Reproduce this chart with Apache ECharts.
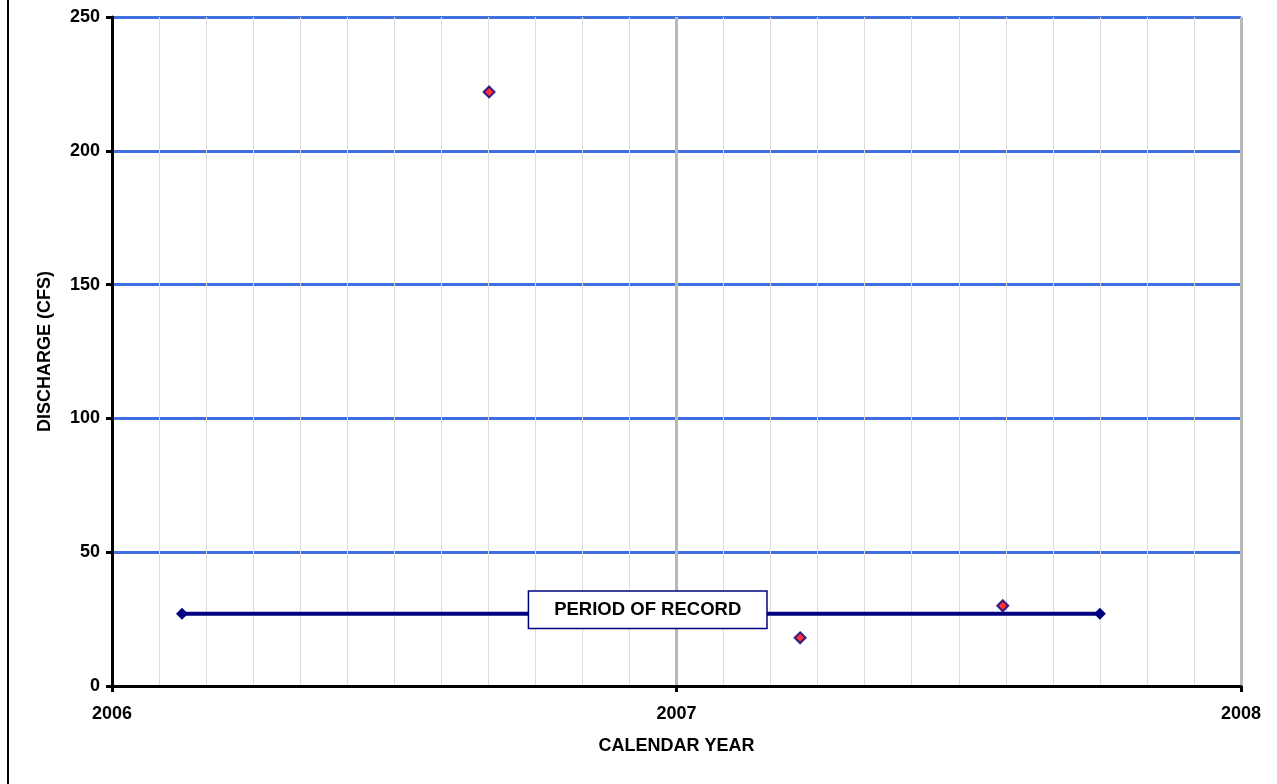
<!DOCTYPE html>
<html>
<head>
<meta charset="utf-8">
<script src="https://cdn.jsdelivr.net/npm/echarts@6/dist/echarts.min.js"></script>
<style>
  html, body { margin: 0; padding: 0; background: #fff; }
  #main { width: 1277px; height: 784px; }
</style>
</head>
<body>
<div id="main"></div>
<script>
// measured discharge (decimal year, cfs)
var observations = [[2006.668, 222], [2007.219, 18], [2007.578, 30]];
// period of record (start / end)
var periodOfRecord = [[2006.124, 27], [2007.75, 27]];
var periodLabelAt = [2006.949, 27];
var yearTicks = [2006, 2007, 2008];
var dischargeTicks = [0, 50, 100, 150, 200, 250];

var font = 'Arial, "Liberation Sans", sans-serif';

var myChart = echarts.init(document.getElementById('main'));
var option = {
    animation: false,
    backgroundColor: '#fff',
    grid: { left: 112, right: 36, top: 17, bottom: 98, containLabel: false },
    graphic: [{
        type: 'line',
        shape: { x1: 8, y1: 0, x2: 8, y2: 784 },
        style: { stroke: '#000', lineWidth: 2 }
    }],
    xAxis: {
        type: 'value',
        min: yearTicks[0],
        max: yearTicks[yearTicks.length - 1],
        interval: 1,
        name: 'CALENDAR YEAR',
        nameLocation: 'middle',
        nameGap: 51,
        nameTextStyle: { fontFamily: font, fontWeight: 'bold', fontSize: 18, color: '#000' },
        axisLine: { lineStyle: { color: '#000', width: 3 } },
        axisTick: { show: true, length: 6, lineStyle: { color: '#000', width: 3 } },
        axisLabel: {
            margin: 19,
            fontFamily: font, fontWeight: 'bold', fontSize: 18, color: '#000',
            formatter: function (v) { return String(Math.round(v)); }
        },
        splitLine: { show: true, lineStyle: { color: '#b8b8b8', width: 3 } },
        minorTick: { show: false, splitNumber: 12 },
        minorSplitLine: { show: true, lineStyle: { color: '#dcdcdc', width: 1 } }
    },
    yAxis: {
        type: 'value',
        min: dischargeTicks[0],
        max: dischargeTicks[dischargeTicks.length - 1],
        interval: 50,
        name: 'DISCHARGE (CFS)',
        nameLocation: 'middle',
        nameGap: 58,
        nameTextStyle: { fontFamily: font, fontWeight: 'bold', fontSize: 18, color: '#000' },
        axisLine: { show: true, lineStyle: { color: '#000', width: 3 } },
        axisTick: { show: true, length: 6, lineStyle: { color: '#000', width: 3 } },
        axisLabel: { margin: 12, fontFamily: font, fontWeight: 'bold', fontSize: 18, color: '#000' },
        splitLine: { show: true, lineStyle: { color: '#4070e0', width: 3 } }
    },
    series: [
        {
            name: 'Period of record',
            type: 'line',
            data: periodOfRecord,
            symbol: 'diamond',
            symbolSize: 12,
            showAllSymbol: true,
            itemStyle: { color: '#000080' },
            lineStyle: { color: '#000080', width: 4 },
            z: 3,
            markPoint: {
                symbol: 'rect',
                symbolSize: 0,
                data: [{ coord: periodLabelAt, value: 'PERIOD OF RECORD' }],
                label: {
                    show: true,
                    position: 'inside',
                    offset: [0, -4],
                    formatter: '{c}',
                    fontFamily: font, fontWeight: 'bold', fontSize: 18.5, color: '#000',
                    backgroundColor: '#fff',
                    borderColor: '#000080',
                    borderWidth: 1.5,
                    padding: [9, 25, 9, 25],
                    lineHeight: 18
                }
            }
        },
        {
            name: 'Discharge',
            type: 'scatter',
            data: observations,
            symbol: 'diamond',
            symbolSize: 11,
            itemStyle: { color: '#ff0000', borderColor: '#000080', borderWidth: 2 },
            z: 4
        }
    ]
};
myChart.setOption(option);
</script>
</body>
</html>
